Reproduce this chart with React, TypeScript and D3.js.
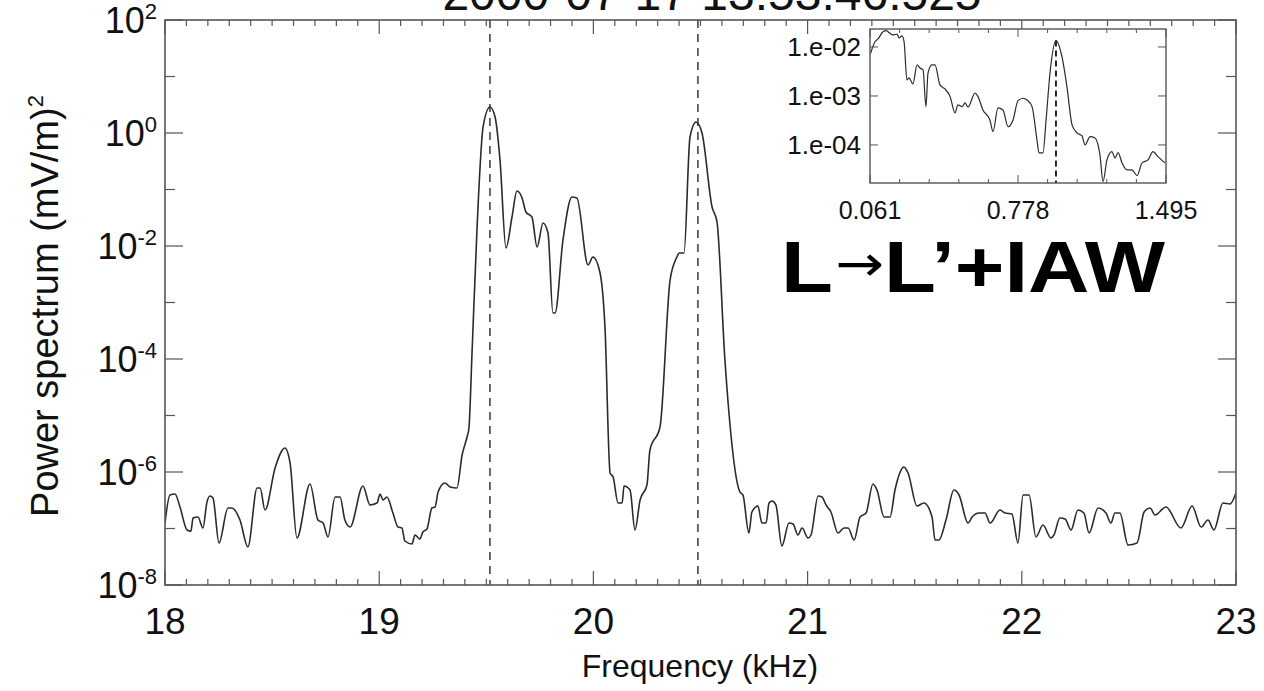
import React from 'react';
import * as d3 from 'd3';

// ---- data ----
const freqKHz = [
  18.000, 18.023, 18.047, 18.070, 18.103, 18.121, 18.131, 18.154, 18.177, 18.196,
  18.210, 18.224, 18.252, 18.294, 18.313, 18.350, 18.387, 18.430, 18.444, 18.467,
  18.514, 18.560, 18.584, 18.616, 18.677, 18.714, 18.738, 18.761, 18.794, 18.817,
  18.840, 18.864, 18.924, 18.957, 18.990, 19.004, 19.018, 19.036, 19.064, 19.088,
  19.106, 19.120, 19.153, 19.167, 19.190, 19.204, 19.223, 19.246, 19.261, 19.275,
  19.307, 19.331, 19.363, 19.387, 19.410, 19.419, 19.433, 19.457, 19.485, 19.517,
  19.541, 19.564, 19.592, 19.620, 19.643, 19.667, 19.685, 19.713, 19.737, 19.765,
  19.788, 19.811, 19.821, 19.858, 19.900, 19.923, 19.975, 19.998, 20.031, 20.054,
  20.078, 20.092, 20.115, 20.134, 20.143, 20.171, 20.194, 20.218, 20.250, 20.264,
  20.311, 20.358, 20.390, 20.400, 20.423, 20.451, 20.479, 20.507, 20.554, 20.577,
  20.614, 20.684, 20.698, 20.726, 20.740, 20.768, 20.787, 20.806, 20.820, 20.834,
  20.852, 20.880, 20.913, 20.932, 20.955, 20.974, 21.002, 21.016, 21.049, 21.067,
  21.086, 21.109, 21.142, 21.170, 21.189, 21.217, 21.245, 21.273, 21.305, 21.324,
  21.357, 21.385, 21.408, 21.450, 21.469, 21.511, 21.543, 21.581, 21.595, 21.613,
  21.646, 21.683, 21.707, 21.749, 21.768, 21.800, 21.828, 21.852, 21.898, 21.922,
  21.954, 21.982, 22.006, 22.034, 22.066, 22.099, 22.136, 22.150, 22.178, 22.202,
  22.230, 22.262, 22.290, 22.314, 22.356, 22.393, 22.416, 22.435, 22.458, 22.496,
  22.538, 22.571, 22.599, 22.622, 22.673, 22.743, 22.795, 22.837, 22.869, 22.897,
  22.939, 22.972, 23.000,
];

const powerSpectrum = [
  1.25e-7, 3.92e-7, 4.08e-7, 2.40e-7, 9.4e-8, 9.0e-8, 1.53e-7, 1.60e-7, 1.02e-7, 2.94e-7,
  3.76e-7, 3.47e-7, 5.53e-8, 2.31e-7, 2.31e-7, 1.41e-7, 4.71e-8, 5.21e-7, 5.21e-7, 2.12e-7,
  1.18e-6, 2.66e-6, 1.44e-6, 6.79e-8, 6.14e-7, 1.41e-7, 1.25e-7, 7.08e-8, 3.61e-7, 3.61e-7,
  1.41e-7, 1.06e-7, 5.65e-7, 2.61e-7, 2.82e-7, 4.08e-7, 3.19e-7, 3.61e-7, 1.88e-7, 1.06e-7,
  1.02e-7, 6.01e-8, 5.32e-8, 7.67e-8, 6.52e-8, 8.67e-8, 9.8e-8, 2.31e-7, 2.40e-7, 4.43e-7,
  6.38e-7, 5.43e-7, 5.21e-7, 2.0e-6, 4.16e-6, 6.01e-6, 1.18e-4, 2.17e-2, 1.28, 2.88,
  1.92, 0.333, 9.2e-3, 3.26e-2, 9.4e-2, 7.08e-2, 4.0e-2, 3.26e-2, 9.6e-3, 2.55e-2,
  1.70e-2, 6.52e-4, 6.52e-4, 1.28e-2, 7.36e-2, 7.08e-2, 4.61e-3, 6.38e-3, 3.33e-3, 3.68e-4,
  9.6e-7, 8.17e-7, 2.82e-7, 2.82e-7, 5.65e-7, 4.80e-7, 9.4e-8, 3.19e-7, 5.89e-7, 2.45e-6,
  6.25e-6, 2.50e-3, 6.38e-3, 7.52e-3, 7.52e-3, 0.849, 1.57, 1.0, 4.90e-2, 2.66e-2,
  9.6e-5, 4.43e-7, 3.92e-7, 8.32e-8, 1.96e-7, 2.50e-7, 1.25e-7, 1.25e-7, 2.82e-7, 3.07e-7,
  2.61e-7, 4.90e-8, 1.25e-7, 1.20e-7, 7.67e-8, 1.02e-7, 6.79e-8, 7.67e-8, 3.76e-7, 3.61e-7,
  2.61e-7, 1.96e-7, 8.32e-8, 1.02e-7, 1.02e-7, 6.25e-8, 1.60e-7, 1.88e-7, 6.14e-7, 4.80e-7,
  1.60e-7, 1.60e-7, 4.80e-7, 1.22e-6, 9.6e-7, 2.50e-7, 2.82e-7, 1.60e-7, 6.25e-8, 6.25e-8,
  1.41e-7, 4.80e-7, 3.92e-7, 1.25e-7, 1.60e-7, 1.88e-7, 1.88e-7, 1.25e-7, 2.12e-7, 1.88e-7,
  1.81e-7, 5.53e-8, 3.92e-7, 3.92e-7, 7.08e-8, 1.15e-7, 6.79e-8, 7.67e-8, 1.53e-7, 1.47e-7,
  9.4e-8, 2.12e-7, 1.88e-7, 8.32e-8, 2.31e-7, 1.88e-7, 1.25e-7, 1.88e-7, 1.88e-7, 5.11e-8,
  5.53e-8, 1.96e-7, 2.31e-7, 1.73e-7, 2.40e-7, 1.02e-7, 2.50e-7, 1.06e-7, 1.41e-7, 9.4e-8,
  2.82e-7, 2.72e-7, 4.25e-7,
];

const insetFreq = [
  0.064, 0.085, 0.100, 0.124, 0.139, 0.158, 0.172, 0.192, 0.202, 0.216,
  0.226, 0.240, 0.250, 0.269, 0.289, 0.303, 0.318, 0.332, 0.342, 0.361,
  0.376, 0.400, 0.424, 0.449, 0.473, 0.487, 0.507, 0.521, 0.536, 0.570,
  0.584, 0.608, 0.642, 0.657, 0.681, 0.705, 0.730, 0.754, 0.778, 0.802,
  0.822, 0.846, 0.870, 0.880, 0.899, 0.914, 0.933, 0.962, 0.991, 1.015,
  1.040, 1.064, 1.088, 1.103, 1.127, 1.151, 1.175, 1.190, 1.209, 1.233,
  1.248, 1.263, 1.282, 1.306, 1.330, 1.355, 1.379, 1.408, 1.432, 1.456,
  1.490,
];

const insetPower = [
  7.43e-3, 1.28e-2, 1.46e-2, 2.05e-2, 2.15e-2, 1.91e-2, 1.76e-2, 1.84e-2, 1.53e-2, 1.68e-2,
  1.28e-2, 2.12e-3, 2.33e-3, 1.76e-3, 4.30e-3, 3.73e-3, 3.40e-3, 6.05e-4, 2.94e-3, 4.30e-3,
  4.30e-3, 1.68e-3, 1.39e-3, 9.7e-4, 4.50e-4, 6.55e-4, 6.05e-4, 7.20e-4, 5.97e-4, 1.15e-3,
  9.7e-4, 5.18e-4, 3.24e-4, 1.87e-4, 5.69e-4, 5.18e-4, 2.36e-4, 3.24e-4, 8.02e-4, 8.97e-4,
  8.28e-4, 6.05e-4, 1.26e-4, 6.87e-5, 6.87e-5, 3.24e-4, 2.94e-3, 1.35e-2, 6.34e-3, 1.55e-3,
  2.56e-4, 1.76e-4, 1.53e-4, 1.0e-4, 1.48e-4, 1.39e-4, 6.25e-5, 1.78e-5, 4.95e-5, 7.30e-5,
  5.43e-5, 6.97e-5, 4.30e-5, 3.09e-5, 3.09e-5, 2.36e-5, 4.30e-5, 4.95e-5, 7.30e-5, 5.77e-5,
  4.30e-5,
];

const xTickValues = [18, 19, 20, 21, 22, 23];
const yLabelExponents = [2, 0, -2, -4, -6, -8];
const insetXTickValues = [0.061, 0.778, 1.495];
const insetXTickLabels = ['0.061', '0.778', '1.495'];
const insetYTickValues = [1e-2, 1e-3, 1e-4];
const insetYTickLabels = ['1.e-02', '1.e-03', '1.e-04'];
const markerFreqs = [19.517, 20.488];
const insetMarkerFreq = 0.962;
const insetMarkerPeak = 1.35e-2;
const titleText = '2000-07-17 13:53:46.525';
const annotation = { a: 'L', arrow: '\u2192', b: 'L\u2019+IAW' };

const FONT = "'Liberation Sans', Arial, Helvetica, sans-serif";
const INK = '#2b2b2b';
const FRAME = '#555';

export default function App() {
  const W = 1264, H = 691;
  const L = 165, R = 1236, T = 20, B = 585;
  const x = d3.scaleLinear().domain([18, 23]).range([L, R]);
  const y = d3.scaleLog().domain([1e-8, 1e2]).range([B, T]);

  const data = freqKHz.map((f, i) => ({ f, p: powerSpectrum[i] }));
  const line = d3.line<{ f: number; p: number }>()
    .x(d => x(d.f)).y(d => y(d.p)).curve(d3.curveMonotoneX);

  // inset
  const iL = 870, iR = 1166, iT = 29, iB = 183;
  const ix = d3.scaleLinear().domain([0.061, 1.495]).range([iL, iR]);
  const iy = d3.scaleLog().domain([1.67e-5, 2.33e-2]).range([iB, iT]);
  const idata = insetFreq.map((f, i) => ({ f, p: insetPower[i] }));
  const iline = d3.line<{ f: number; p: number }>()
    .x(d => ix(d.f)).y(d => iy(d.p)).curve(d3.curveMonotoneX);

  const minorX = d3.range(180, 231).map(v => v / 10);
  const decades = d3.range(-8, 3);
  const insetMinorX = d3.range(0, 11).map(i => 0.061 + i * 0.1434);

  return (
    <svg width={W} height={H} style={{ position: 'absolute', left: 0, top: 0, background: '#fff' }}
      fontFamily={FONT}>
      <defs>
        <clipPath id="plotClip"><rect x={L} y={T} width={R - L} height={B - T} /></clipPath>
        <clipPath id="insetClip"><rect x={iL} y={iT} width={iR - iL} height={iB - iT} /></clipPath>
      </defs>
      <rect x={0} y={0} width={W} height={H} fill="#fff" />

      {/* title, cropped by the top edge */}
      <text x={712} y={10} textAnchor="middle" fontSize={48} fill="#111">{titleText}</text>

      {/* marker lines */}
      {markerFreqs.map(f => (
        <line key={f} x1={x(f)} x2={x(f)} y1={T} y2={B} stroke={INK} strokeWidth={1.4}
          strokeDasharray="8 6" />
      ))}

      {/* spectrum */}
      <path d={line(data) || ''} fill="none" stroke={INK} strokeWidth={1.6} clipPath="url(#plotClip)" />

      {/* frame */}
      <rect x={L} y={T} width={R - L} height={B - T} fill="none" stroke={FRAME} strokeWidth={1.6} />

      {/* x ticks top/bottom */}
      {minorX.map(v => {
        const major = Math.abs(v - Math.round(v)) < 1e-6;
        const len = major ? 14 : 6;
        return (
          <g key={v}>
            <line x1={x(v)} x2={x(v)} y1={B} y2={B - len} stroke={FRAME} strokeWidth={1.2} />
            <line x1={x(v)} x2={x(v)} y1={T} y2={T + len} stroke={FRAME} strokeWidth={1.2} />
          </g>
        );
      })}
      {/* y ticks left/right */}
      {decades.map(e => {
        const major = e % 2 === 0;
        const len = major ? 18 : 10;
        const yy = y(Math.pow(10, e));
        return (
          <g key={e}>
            <line x1={L} x2={L + len} y1={yy} y2={yy} stroke={FRAME} strokeWidth={1.2} />
            <line x1={R} x2={R - len} y1={yy} y2={yy} stroke={FRAME} strokeWidth={1.2} />
          </g>
        );
      })}

      {/* x tick labels */}
      {xTickValues.map(v => (
        <text key={v} x={x(v)} y={634} textAnchor="middle" fontSize={37} fill="#111">{v}</text>
      ))}
      {/* y tick labels */}
      {yLabelExponents.map(e => (
        <text key={e} x={157} y={y(Math.pow(10, e)) + 13} textAnchor="end" fontSize={36} fill="#111">
          10<tspan dy={-14} fontSize={22}>{e}</tspan>
        </text>
      ))}

      {/* axis titles */}
      <text x={700} y={677} textAnchor="middle" fontSize={32} fill="#111">Frequency (kHz)</text>
      <text transform="translate(58,306) rotate(-90)" textAnchor="middle" fontSize={38} fill="#111">
        Power spectrum (mV/m)<tspan dy={-15} fontSize={22}>2</tspan>
      </text>

      {/* annotation */}
      <text x={781} y={292} fontSize={73} fontWeight="bold" fill="#000"
        textLength={384} lengthAdjust="spacingAndGlyphs">
        {annotation.a}<tspan fontFamily="'DejaVu Sans'" fontWeight="normal" fontSize={50} dy={-11} dx={2}>{annotation.arrow}</tspan><tspan fontSize={73} dy={11} dx={0}>{annotation.b}</tspan>
      </text>

      {/* ---- inset ---- */}
      <rect x={iL} y={iT} width={iR - iL} height={iB - iT} fill="#fff" />
      <line x1={ix(insetMarkerFreq)} x2={ix(insetMarkerFreq)} y1={iy(insetMarkerPeak)} y2={iB}
        stroke="#111" strokeWidth={1.8} strokeDasharray="6 4" />
      <path d={iline(idata) || ''} fill="none" stroke={INK} strokeWidth={1.2} clipPath="url(#insetClip)" />
      <rect x={iL} y={iT} width={iR - iL} height={iB - iT} fill="none" stroke={FRAME} strokeWidth={1.4} />
      {insetMinorX.map((v, i) => {
        const len = i % 5 === 0 ? 8 : 4;
        return (
          <g key={i}>
            <line x1={ix(v)} x2={ix(v)} y1={iB} y2={iB - len} stroke={FRAME} strokeWidth={1} />
            <line x1={ix(v)} x2={ix(v)} y1={iT} y2={iT + len} stroke={FRAME} strokeWidth={1} />
          </g>
        );
      })}
      {insetYTickValues.map(v => (
        <g key={v}>
          <line x1={iL} x2={iL + 8} y1={iy(v)} y2={iy(v)} stroke={FRAME} strokeWidth={1} />
          <line x1={iR} x2={iR - 8} y1={iy(v)} y2={iy(v)} stroke={FRAME} strokeWidth={1} />
        </g>
      ))}
      {insetYTickValues.map((v, i) => (
        <text key={v} x={861} y={iy(v) + 9} textAnchor="end" fontSize={26} fill="#111">{insetYTickLabels[i]}</text>
      ))}
      {insetXTickValues.map((v, i) => (
        <text key={v} x={ix(v)} y={219} textAnchor="middle" fontSize={25} fill="#111">{insetXTickLabels[i]}</text>
      ))}
    </svg>
  );
}
